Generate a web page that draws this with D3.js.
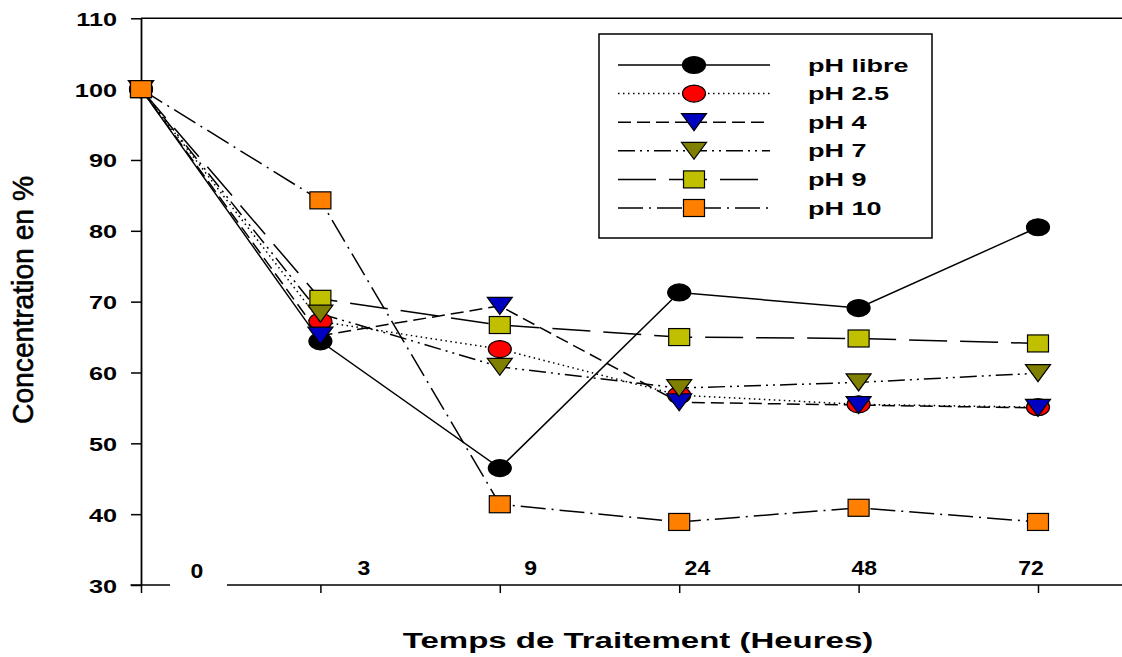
<!DOCTYPE html>
<html>
<head>
<meta charset="utf-8">
<script src="https://cdn.jsdelivr.net/npm/d3@7/dist/d3.min.js"></script>
<style>
  html, body { margin: 0; padding: 0; background: #fff; }
  svg { display: block; }
  text { font-family: "Liberation Sans", Arial, sans-serif; }
</style>
</head>
<body>
<svg id="chart" width="1122" height="657"></svg>
<script>
// ---------- data ----------
const categories = ["0", "3", "9", "24", "48", "72"];
const yTicks = [30, 40, 50, 60, 70, 80, 90, 100, 110];
const seriesNames = ["pH libre", "pH 2.5", "pH 4", "pH 7", "pH 9", "pH 10"];
const phLibre = [100, 64.4, 46.5, 71.3, 69.1, 80.5];
const ph25    = [100, 67.2, 63.3, 56.8, 55.5, 55.1];
const ph4     = [100, 65.2, 69.4, 55.8, 55.4, 55.0];
const ph7     = [100, 68.3, 60.8, 57.8, 58.6, 59.9];
const ph9     = [100, 70.4, 66.7, 65.0, 64.8, 64.1];
const ph10    = [100, 84.3, 41.4, 38.9, 40.9, 38.9];
const seriesValues = [phLibre, ph25, ph4, ph7, ph9, ph10];

// ---------- styles ----------
const styles = [
  { shape: "circle", fill: "#000000", dash: null },
  { shape: "circle", fill: "#ff0000", dash: "1.5,3.5" },
  { shape: "tri",    fill: "#0000c0", dash: "13,6" },
  { shape: "tri",    fill: "#808000", dash: "17,5,2,5,2,5" },
  { shape: "square", fill: "#c0c000", dash: "38,13" },
  { shape: "square", fill: "#ff8000", dash: "25,6,2,6" }
];
const drawOrder = [0, 1, 2, 4, 3, 5];

const svg = d3.select("#chart");
const x = d3.scalePoint().domain(categories).range([141, 1038]);
const xLab = d3.scalePoint().domain(categories).range([197, 1031]);
const y = d3.scaleLinear().domain([30, 110]).range([585, 18.3]);

function marker(g, shape, fill) {
  if (shape === "circle") {
    g.append("ellipse").attr("rx", 11.5).attr("ry", 8.5);
  } else if (shape === "square") {
    g.append("rect").attr("x", -10.5).attr("y", -8.5).attr("width", 21).attr("height", 17);
  } else {
    g.append("path").attr("d", "M-12.5,-8.5 L12.5,-8.5 L0,8.5 Z");
  }
  g.selectAll("*").attr("fill", fill).attr("stroke", "#000").attr("stroke-width", 1.2);
}

// ---------- axes ----------
svg.append("line").attr("x1", 141).attr("x2", 1122)
  .attr("y1", y(110)).attr("y2", y(110)).attr("stroke", "#000").attr("stroke-width", 1.5);

const yAxis = svg.append("g").attr("transform", "translate(141,0)")
  .call(d3.axisLeft(y).tickValues(yTicks).tickSize(10).tickSizeOuter(0));
yAxis.select(".domain").attr("stroke-width", 1.8);
yAxis.selectAll(".tick line").attr("stroke-width", 1.5);
yAxis.selectAll(".tick text")
  .attr("x", null).attr("dy", null)
  .attr("transform", "translate(-24,7) scale(1.33,1)")
  .attr("text-anchor", "end")
  .attr("font-size", 19).attr("font-weight", "bold").attr("fill", "#000");

const xAxis = svg.append("g").attr("transform", `translate(0,${y(30)})`)
  .call(d3.axisBottom(x).tickSize(8).tickFormat(""));
xAxis.select(".domain").remove();
xAxis.selectAll(".tick line").attr("stroke-width", 1.5);
xAxis.append("line").attr("x1", 130.5).attr("x2", 170).attr("stroke", "#000").attr("stroke-width", 1.5);
xAxis.append("line").attr("x1", 227).attr("x2", 1122).attr("stroke", "#000").attr("stroke-width", 1.5);

svg.append("g").selectAll("text").data(categories).join("text")
  .attr("transform", d => `translate(${xLab(d)},${d === "0" ? 578 : 575}) scale(1.15,1)`)
  .attr("text-anchor", "middle")
  .attr("font-size", 20).attr("font-weight", "bold").attr("fill", "#000")
  .text(d => d);

// axis titles
svg.append("text")
  .attr("transform", "translate(638,648) scale(1.5,1)")
  .attr("text-anchor", "middle")
  .attr("font-size", 22).attr("font-weight", "bold")
  .text("Temps de Traitement (Heures)");

svg.append("text")
  .attr("transform", "translate(33,300) rotate(-90)")
  .attr("text-anchor", "middle")
  .attr("font-size", 30)
  .attr("stroke", "#000").attr("stroke-width", 0.6)
  .attr("textLength", 248).attr("lengthAdjust", "spacingAndGlyphs")
  .text("Concentration en %");

// ---------- lines ----------
const line = d3.line().x((d, i) => x(categories[i])).y(d => y(d));
const lineG = svg.append("g");
drawOrder.forEach(k => {
  lineG.append("path").datum(seriesValues[k])
    .attr("d", line).attr("fill", "none").attr("stroke", "#000")
    .attr("stroke-width", 1.5)
    .attr("stroke-dasharray", styles[k].dash);
});
const markG = svg.append("g");
drawOrder.forEach(k => {
  seriesValues[k].forEach((v, i) => {
    const g = markG.append("g").attr("transform", `translate(${x(categories[i])},${y(v)})`);
    marker(g, styles[k].shape, styles[k].fill);
  });
});

// ---------- legend ----------
const leg = svg.append("g");
leg.append("rect").attr("x", 599).attr("y", 34).attr("width", 333).attr("height", 204)
  .attr("fill", "#fff").attr("stroke", "#000").attr("stroke-width", 1.5);
seriesNames.forEach((name, k) => {
  const ry = 65 + k * 28.6;
  leg.append("line").attr("x1", 618).attr("x2", 770).attr("y1", ry).attr("y2", ry)
    .attr("stroke", "#000").attr("stroke-width", 1.5)
    .attr("stroke-dasharray", styles[k].dash);
  const g = leg.append("g").attr("transform", `translate(694,${ry})`);
  marker(g, styles[k].shape, styles[k].fill);
  leg.append("text")
    .attr("transform", `translate(808,${ry + 6.5}) scale(1.5,1)`)
    .attr("font-size", 18).attr("font-weight", "bold")
    .text(name);
});
</script>
</body>
</html>
